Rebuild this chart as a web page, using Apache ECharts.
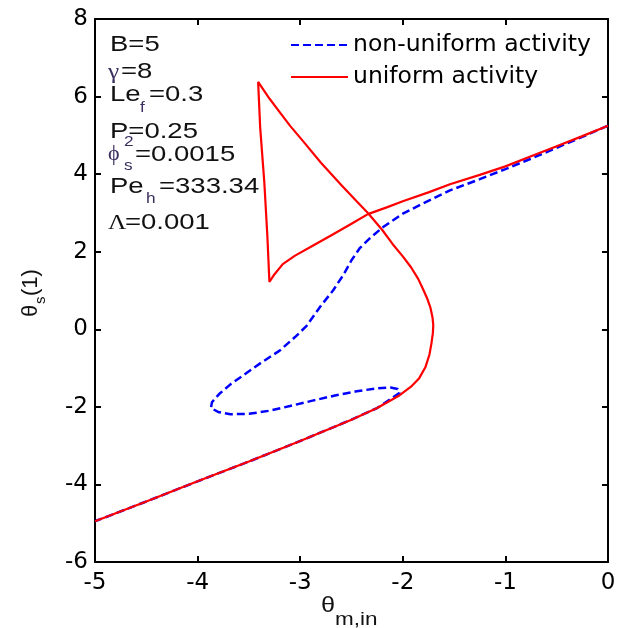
<!DOCTYPE html>
<html>
<head>
<meta charset="utf-8">
<script src="https://cdn.jsdelivr.net/npm/echarts@6/dist/echarts.min.js"></script>
<style>
  html, body { margin: 0; padding: 0; background: #fff; }
  #chart { width: 619px; height: 628px; }
</style>
</head>
<body>
<div id="chart"></div>
<script>
// uniform activity: lower branch, S-turn, peak, cusp, upper branch
const uniformX = [
  -5, -4.5, -4, -3.5, -3, -2.5, -2.25, -2.03, -1.92, -1.84, -1.78, -1.74, -1.72, -1.707, -1.703,
  -1.71, -1.73, -1.76, -1.8, -1.85, -1.92, -2, -2.1, -2.2, -2.34, -2.45, -2.6, -2.8, -2.95, -3.1, -3.2, -3.3, -3.41,
  -3.39, -3.35, -3.32, -3.3,
  -3.25, -3.17, -3.05, -2.9, -2.7, -2.5, -2.34, -2.15, -2, -1.75, -1.54, -1.25, -1, -0.75, -0.5, -0.25, 0
]
const uniformY = [
  -4.95, -4.44, -3.92, -3.41, -2.88, -2.33, -2.03, -1.7, -1.48, -1.26, -0.98, -0.65, -0.35, -0.1, 0.1,
  0.3, 0.55, 0.78, 1.02, 1.3, 1.6, 1.88, 2.2, 2.56, 3.0, 3.3, 3.72, 4.3, 4.78, 5.25, 5.6, 5.95, 6.38,
  5.2, 3.8, 2.4, 1.22,
  1.42, 1.68, 1.9, 2.12, 2.42, 2.72, 2.97, 3.15, 3.3, 3.53, 3.74, 3.98, 4.2, 4.46, 4.72, 4.98, 5.25
]

// non-uniform activity: from the right end, down round the loop, then along the lower branch
const nonUniformX = [
  0, -0.25, -0.5, -0.75, -1, -1.25, -1.54, -1.8, -2, -2.2, -2.32, -2.42, -2.5, -2.58, -2.68, -2.8,
  -2.94, -3.05, -3.2, -3.38, -3.53, -3.68, -3.79, -3.86, -3.87, -3.8, -3.68, -3.5, -3.3, -3.1,
  -2.88, -2.65, -2.45, -2.25, -2.12, -2.05, -2.03, -2.25, -2.5, -3, -3.5, -4, -4.5, -5
]
const nonUniformY = [
  5.25, 4.96, 4.68, 4.4, 4.13, 3.87, 3.58, 3.25, 2.98, 2.62, 2.35, 2.09, 1.78, 1.4, 1.0, 0.6,
  0.08, -0.2, -0.55, -0.86, -1.14, -1.42, -1.67, -1.88, -2.03, -2.13, -2.19, -2.18, -2.1, -1.98,
  -1.84, -1.7, -1.6, -1.52, -1.5, -1.54, -1.64, -2.03, -2.33, -2.88, -3.41, -3.92, -4.44, -4.95
]

const seriesNames = ['non-uniform activity', 'uniform activity']
const xTicks = { min: -5, max: 0, interval: 1 }
const yTicks = { min: -6, max: 8, interval: 2 }

function pairs(xs, ys) {
  return xs.map((x, i) => [x, ys[i]])
}

const sans = '"Liberation Sans", Arial, sans-serif'
const serif = '"Liberation Serif", "Times New Roman", serif'
const ink = '#111'
const greek = '#3b2f5e'

// the source figure is stretched sideways, so text gets a scaleX
function txt(x, y, text, size, opts = {}) {
  return {
    type: 'text',
    x,
    y,
    scaleX: opts.scaleX ?? 1.25,
    style: {
      text,
      font: `${size}px ${opts.family || sans}`,
      fill: opts.fill || ink,
      textAlign: 'left',
      textVerticalAlign: 'middle',
    },
  }
}

const annotations = [
  txt(110, 45, 'B=5', 22),
  txt(108, 72, 'γ', 22, { family: serif, fill: greek, scaleX: 1.15 }),
  txt(121, 72, '=8', 22),
  txt(110, 95, 'Le', 22),
  txt(140, 108, 'f', 15, { fill: greek, scaleX: 1.15 }),
  txt(149, 95, '=0.3', 22),
  txt(110, 132, 'P=0.25', 22),
  txt(108, 155, 'ϕ', 20, { family: serif, fill: greek, scaleX: 1.1 }),
  txt(124, 142, '2', 15, { fill: greek, scaleX: 1.15 }),
  txt(124, 166, 's', 15, { fill: greek, scaleX: 1.15 }),
  txt(135, 155, '=0.0015', 22),
  txt(110, 187, 'Pe', 22),
  txt(146, 199, 'h', 15, { fill: greek, scaleX: 1.15 }),
  txt(159, 187, '=333.34', 22),
  txt(108, 223, 'Λ', 22, { family: serif, scaleX: 1.15 }),
  txt(125, 223, '=0.001', 22),
]

const axisNames = [
  txt(321, 606, 'θ', 22, { scaleX: 1.15 }),
  txt(335, 620, 'm,in', 18, { scaleX: 1.25 }),
  {
    type: 'group',
    x: 31,
    y: 292,
    rotation: Math.PI / 2,
    children: [
      txt(-25, 0, 'θ', 22, { scaleX: 1 }),
      txt(-12, 10, 's', 15, { scaleX: 1 }),
      txt(-4, 0, '(1)', 22, { scaleX: 1 }),
    ],
  },
]

const axisLine = { show: true, onZero: false, lineStyle: { color: '#000', width: 2 } }
const tickIn = { show: true, inside: true, length: 6, lineStyle: { color: '#000', width: 2 } }
const tickFont = { color: '#000', fontSize: 23, fontFamily: '"DejaVu Sans", sans-serif' }

const chart = echarts.init(document.getElementById('chart'), null, { renderer: 'canvas' })

chart.setOption({
  animation: false,
  backgroundColor: '#fff',
  grid: { left: 95, right: 11, top: 19, bottom: 66 },
  legend: {
    orient: 'vertical',
    left: 285,
    top: 28,
    itemWidth: 57,
    itemHeight: 14,
    itemGap: 8,
    data: seriesNames,
    itemStyle: { opacity: 0 },
    textStyle: { fontSize: 23.5, lineHeight: 24, color: '#000', fontFamily: '"DejaVu Sans", sans-serif' },
  },
  xAxis: [
    {
      type: 'value',
      position: 'bottom',
      ...xTicks,
      axisLine,
      axisTick: tickIn,
      axisLabel: { ...tickFont, margin: 10 },
      splitLine: { show: false },
    },
    {
      type: 'value',
      position: 'top',
      ...xTicks,
      axisLine,
      axisTick: tickIn,
      axisLabel: { show: false },
      splitLine: { show: false },
    },
  ],
  yAxis: [
    {
      type: 'value',
      position: 'left',
      ...yTicks,
      axisLine,
      axisTick: tickIn,
      axisLabel: { ...tickFont, margin: 7 },
      splitLine: { show: false },
    },
    {
      type: 'value',
      position: 'right',
      ...yTicks,
      axisLine,
      axisTick: tickIn,
      axisLabel: { show: false },
      splitLine: { show: false },
    },
  ],
  series: [
    {
      name: seriesNames[0],
      type: 'line',
      data: pairs(nonUniformX, nonUniformY),
      showSymbol: false,
      symbol: 'none',
      lineStyle: { color: '#0000ff', width: 2.5, type: [8, 4] },
      itemStyle: { color: '#0000ff' },
    },
    {
      name: seriesNames[1],
      type: 'line',
      data: pairs(uniformX, uniformY),
      showSymbol: false,
      symbol: 'none',
      lineStyle: { color: '#ff0000', width: 2.2 },
      itemStyle: { color: '#ff0000' },
    },
  ],
  graphic: [...annotations, ...axisNames],
})
</script>
</body>
</html>
